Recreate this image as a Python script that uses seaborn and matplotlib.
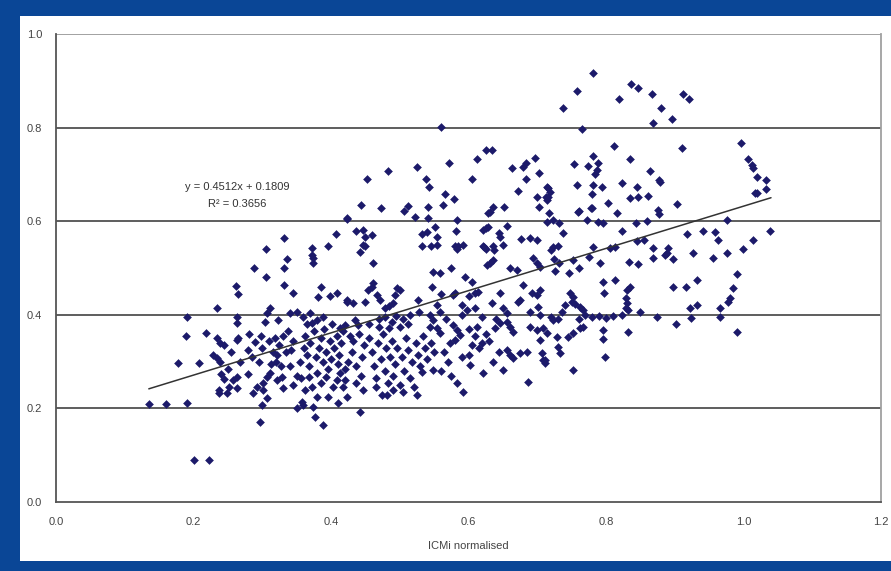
import numpy as np
import pandas as pd
import matplotlib
matplotlib.use("Agg")
import matplotlib.pyplot as plt
import seaborn as sns
from matplotlib.patches import Rectangle

# (ICMi normalised, score) pairs, grouped by x range
pts_left = [
    (0.135, 0.209), (0.160, 0.209), (0.190, 0.212), (0.200, 0.090), (0.223, 0.090),
    (0.190, 0.395), (0.189, 0.355), (0.177, 0.297), (0.208, 0.297), (0.218, 0.361),
    (0.234, 0.415), (0.234, 0.350), (0.239, 0.340), (0.244, 0.335), (0.228, 0.314),
    (0.234, 0.308), (0.239, 0.299), (0.240, 0.274), (0.237, 0.239), (0.237, 0.233),
    (0.249, 0.233), (0.252, 0.246), (0.255, 0.320), (0.250, 0.285), (0.245, 0.262),
]
pts_026_035 = [
    (0.262, 0.462), (0.265, 0.444), (0.263, 0.395), (0.263, 0.382), (0.263, 0.346),
    (0.265, 0.350), (0.268, 0.299), (0.263, 0.267), (0.257, 0.261), (0.263, 0.244),
    (0.279, 0.274), (0.279, 0.325), (0.289, 0.342), (0.287, 0.233), (0.292, 0.246),
    (0.300, 0.207), (0.297, 0.171), (0.301, 0.239), (0.301, 0.254), (0.307, 0.222),
    (0.311, 0.414), (0.307, 0.404), (0.304, 0.385), (0.323, 0.389), (0.307, 0.267),
    (0.311, 0.276), (0.321, 0.261), (0.330, 0.244), (0.329, 0.267), (0.305, 0.541),
    (0.288, 0.500), (0.305, 0.481), (0.332, 0.564), (0.336, 0.519), (0.332, 0.500),
    (0.332, 0.464), (0.340, 0.404), (0.350, 0.406), (0.345, 0.250), (0.350, 0.270),
    (0.350, 0.200), (0.280, 0.360), (0.285, 0.310), (0.295, 0.300), (0.300, 0.330),
    (0.310, 0.345), (0.315, 0.320), (0.320, 0.300), (0.325, 0.335), (0.330, 0.355),
    (0.335, 0.320), (0.340, 0.290), (0.345, 0.345), (0.318, 0.350), (0.312, 0.295),
    (0.298, 0.355), (0.322, 0.315), (0.338, 0.365), (0.327, 0.290), (0.342, 0.325),
]
pts_035_045 = [
    (0.359, 0.395), (0.369, 0.404), (0.380, 0.389), (0.388, 0.395), (0.372, 0.382),
    (0.385, 0.459), (0.381, 0.438), (0.399, 0.440), (0.409, 0.447), (0.423, 0.427),
    (0.345, 0.447), (0.372, 0.543), (0.372, 0.528), (0.374, 0.521), (0.374, 0.511),
    (0.396, 0.547), (0.423, 0.605), (0.407, 0.573), (0.436, 0.579), (0.447, 0.581),
    (0.449, 0.566), (0.460, 0.571), (0.449, 0.547), (0.444, 0.635), (0.423, 0.607),
    (0.452, 0.690), (0.358, 0.214), (0.359, 0.207), (0.374, 0.203), (0.377, 0.182),
    (0.388, 0.165), (0.372, 0.246), (0.403, 0.246), (0.409, 0.261), (0.413, 0.276),
    (0.410, 0.212), (0.355, 0.300), (0.360, 0.330), (0.362, 0.355), (0.365, 0.315),
    (0.368, 0.290), (0.370, 0.340), (0.375, 0.365), (0.378, 0.310), (0.380, 0.275),
    (0.382, 0.330), (0.385, 0.350), (0.388, 0.300), (0.390, 0.370), (0.392, 0.320),
    (0.395, 0.285), (0.398, 0.345), (0.400, 0.305), (0.402, 0.380), (0.405, 0.330),
    (0.408, 0.355), (0.410, 0.295), (0.412, 0.315), (0.415, 0.340), (0.418, 0.365),
    (0.420, 0.285), (0.365, 0.380), (0.357, 0.265), (0.362, 0.240), (0.385, 0.255),
    (0.395, 0.225), (0.380, 0.225), (0.368, 0.268), (0.392, 0.268), (0.413, 0.372),
    (0.420, 0.378), (0.435, 0.389), (0.439, 0.378), (0.423, 0.432), (0.432, 0.425),
    (0.449, 0.427), (0.442, 0.534), (0.447, 0.549), (0.423, 0.224), (0.417, 0.246),
    (0.420, 0.261), (0.442, 0.192), (0.425, 0.300), (0.430, 0.320), (0.432, 0.345),
    (0.437, 0.290), (0.440, 0.360), (0.443, 0.270), (0.445, 0.310), (0.448, 0.335),
    (0.428, 0.355), (0.436, 0.255), (0.446, 0.240),
]
pts_045_055 = [
    (0.461, 0.511), (0.461, 0.468), (0.460, 0.459), (0.454, 0.453), (0.467, 0.442),
    (0.471, 0.432), (0.496, 0.457), (0.500, 0.453), (0.493, 0.442), (0.478, 0.415),
    (0.484, 0.419), (0.490, 0.425), (0.527, 0.432), (0.528, 0.406), (0.554, 0.421),
    (0.559, 0.406), (0.473, 0.628), (0.483, 0.707), (0.512, 0.632), (0.506, 0.622),
    (0.522, 0.609), (0.525, 0.716), (0.538, 0.690), (0.543, 0.673), (0.541, 0.630),
    (0.541, 0.607), (0.532, 0.573), (0.540, 0.577), (0.551, 0.588), (0.554, 0.566),
    (0.532, 0.547), (0.554, 0.549), (0.560, 0.801), (0.546, 0.547), (0.548, 0.491),
    (0.559, 0.489), (0.547, 0.459), (0.474, 0.229), (0.481, 0.229), (0.525, 0.229),
    (0.532, 0.278), (0.548, 0.282), (0.470, 0.390), (0.478, 0.395), (0.488, 0.385),
    (0.495, 0.398), (0.505, 0.392), (0.515, 0.400), (0.512, 0.380), (0.500, 0.375),
    (0.485, 0.372), (0.544, 0.400), (0.548, 0.389), (0.544, 0.374), (0.554, 0.372),
    (0.559, 0.361), (0.455, 0.350), (0.460, 0.320), (0.462, 0.290), (0.465, 0.265),
    (0.468, 0.340), (0.472, 0.305), (0.475, 0.360), (0.478, 0.280), (0.480, 0.330),
    (0.483, 0.255), (0.486, 0.310), (0.488, 0.345), (0.490, 0.270), (0.493, 0.295),
    (0.496, 0.330), (0.500, 0.250), (0.503, 0.310), (0.506, 0.280), (0.509, 0.350),
    (0.512, 0.325), (0.515, 0.265), (0.518, 0.300), (0.520, 0.245), (0.523, 0.340),
    (0.526, 0.315), (0.530, 0.290), (0.534, 0.355), (0.537, 0.330), (0.540, 0.305),
    (0.545, 0.340), (0.550, 0.320), (0.505, 0.235), (0.490, 0.240), (0.465, 0.245),
    (0.470, 0.375), (0.455, 0.380),
]
pts_055_065 = [
    (0.566, 0.658), (0.579, 0.647), (0.563, 0.635), (0.572, 0.724), (0.583, 0.603),
    (0.582, 0.579), (0.592, 0.549), (0.605, 0.690), (0.612, 0.733), (0.625, 0.752),
    (0.634, 0.752), (0.625, 0.585), (0.621, 0.581), (0.628, 0.588), (0.636, 0.630),
    (0.631, 0.620), (0.628, 0.618), (0.644, 0.575), (0.646, 0.566), (0.621, 0.547),
    (0.650, 0.550), (0.580, 0.547), (0.583, 0.540), (0.585, 0.547), (0.623, 0.545),
    (0.626, 0.540), (0.636, 0.547), (0.637, 0.538), (0.627, 0.506), (0.631, 0.511),
    (0.636, 0.517), (0.577, 0.442), (0.580, 0.447), (0.614, 0.449), (0.609, 0.447),
    (0.646, 0.447), (0.634, 0.425), (0.598, 0.410), (0.609, 0.415), (0.650, 0.415),
    (0.577, 0.378), (0.583, 0.368), (0.588, 0.357), (0.580, 0.346), (0.573, 0.340),
    (0.600, 0.370), (0.610, 0.355), (0.620, 0.340), (0.605, 0.335), (0.615, 0.330),
    (0.625, 0.360), (0.630, 0.345), (0.612, 0.375), (0.639, 0.372), (0.646, 0.382),
    (0.621, 0.276), (0.602, 0.293), (0.583, 0.254), (0.592, 0.235), (0.590, 0.310),
    (0.570, 0.300), (0.565, 0.320), (0.600, 0.315), (0.560, 0.280), (0.575, 0.270),
    (0.635, 0.300), (0.645, 0.320), (0.568, 0.390), (0.590, 0.400), (0.620, 0.395),
    (0.640, 0.390), (0.595, 0.480), (0.605, 0.470), (0.575, 0.500), (0.560, 0.445),
    (0.590, 0.420), (0.600, 0.440),
]
pts_065_075 = [
    (0.652, 0.630), (0.656, 0.590), (0.676, 0.562), (0.663, 0.714), (0.679, 0.716),
    (0.684, 0.724), (0.697, 0.735), (0.703, 0.703), (0.684, 0.690), (0.672, 0.665),
    (0.700, 0.652), (0.713, 0.652), (0.715, 0.670), (0.703, 0.630), (0.714, 0.673),
    (0.719, 0.662), (0.716, 0.652), (0.714, 0.645), (0.717, 0.618), (0.690, 0.564),
    (0.700, 0.560), (0.660, 0.500), (0.671, 0.496), (0.694, 0.521), (0.700, 0.511),
    (0.704, 0.502), (0.720, 0.539), (0.725, 0.520), (0.732, 0.510), (0.679, 0.464),
    (0.692, 0.447), (0.704, 0.453), (0.700, 0.442), (0.675, 0.432), (0.672, 0.427),
    (0.689, 0.406), (0.701, 0.417), (0.704, 0.400), (0.656, 0.404), (0.723, 0.389),
    (0.656, 0.385), (0.660, 0.374), (0.665, 0.363), (0.656, 0.325), (0.660, 0.314),
    (0.665, 0.308), (0.675, 0.318), (0.685, 0.321), (0.689, 0.374), (0.700, 0.368),
    (0.708, 0.372), (0.714, 0.361), (0.704, 0.346), (0.707, 0.318), (0.711, 0.303),
    (0.650, 0.282), (0.687, 0.256), (0.709, 0.303), (0.711, 0.297), (0.729, 0.353),
    (0.730, 0.331), (0.733, 0.318), (0.745, 0.353), (0.752, 0.361), (0.736, 0.406),
    (0.730, 0.390), (0.720, 0.395), (0.740, 0.420), (0.752, 0.282), (0.737, 0.842),
    (0.714, 0.598), (0.723, 0.545), (0.730, 0.548), (0.726, 0.494), (0.746, 0.489),
    (0.737, 0.575), (0.723, 0.603), (0.731, 0.596),
]
pts_075_085 = [
    (0.758, 0.677), (0.781, 0.677), (0.794, 0.673), (0.780, 0.658), (0.823, 0.682),
    (0.845, 0.673), (0.803, 0.639), (0.835, 0.650), (0.847, 0.652), (0.861, 0.654),
    (0.780, 0.628), (0.761, 0.622), (0.816, 0.618), (0.759, 0.620), (0.778, 0.628),
    (0.781, 0.917), (0.758, 0.878), (0.819, 0.861), (0.836, 0.893), (0.847, 0.885),
    (0.765, 0.797), (0.812, 0.761), (0.835, 0.733), (0.781, 0.739), (0.788, 0.724),
    (0.787, 0.709), (0.784, 0.701), (0.753, 0.722), (0.774, 0.718), (0.772, 0.603),
    (0.788, 0.598), (0.796, 0.596), (0.823, 0.579), (0.844, 0.596), (0.845, 0.558),
    (0.781, 0.545), (0.806, 0.543), (0.813, 0.545), (0.775, 0.524), (0.752, 0.517),
    (0.761, 0.500), (0.791, 0.511), (0.833, 0.513), (0.847, 0.509), (0.796, 0.470),
    (0.813, 0.474), (0.797, 0.447), (0.835, 0.459), (0.831, 0.453), (0.829, 0.436),
    (0.831, 0.425), (0.829, 0.415), (0.748, 0.447), (0.752, 0.438), (0.750, 0.427),
    (0.755, 0.423), (0.762, 0.417), (0.767, 0.410), (0.849, 0.406), (0.823, 0.400),
    (0.832, 0.410), (0.832, 0.363), (0.796, 0.368), (0.796, 0.348), (0.799, 0.310),
    (0.767, 0.374), (0.762, 0.372), (0.780, 0.395), (0.790, 0.398), (0.800, 0.393),
    (0.810, 0.398), (0.770, 0.400), (0.760, 0.392),
]
pts_right = [
    (0.867, 0.872), (0.912, 0.872), (0.921, 0.861), (0.880, 0.842), (0.896, 0.818),
    (0.868, 0.810), (0.911, 0.756), (0.864, 0.707), (0.877, 0.688), (0.879, 0.684),
    (0.903, 0.637), (0.876, 0.624), (0.877, 0.615), (0.996, 0.767), (1.007, 0.733),
    (1.012, 0.720), (1.014, 0.714), (1.020, 0.694), (1.033, 0.688), (1.020, 0.660),
    (1.033, 0.669), (1.017, 0.660), (0.976, 0.603), (0.918, 0.573), (0.941, 0.579),
    (0.958, 0.577), (0.963, 0.560), (1.014, 0.560), (0.999, 0.541), (0.976, 0.532),
    (0.956, 0.521), (0.927, 0.532), (0.897, 0.519), (0.890, 0.543), (0.889, 0.532),
    (0.886, 0.528), (0.868, 0.543), (0.868, 0.521), (1.039, 0.579), (0.991, 0.487),
    (0.932, 0.474), (0.897, 0.459), (0.916, 0.459), (0.985, 0.457), (0.980, 0.436),
    (0.977, 0.427), (0.932, 0.421), (0.922, 0.415), (0.966, 0.415), (0.966, 0.395),
    (0.924, 0.393), (0.874, 0.395), (0.902, 0.380), (0.991, 0.363), (0.855, 0.560),
    (0.860, 0.600),
]

# linear trend as printed on the chart
slope = 0.4512
intercept = 0.1809
r_squared = 0.3656
trend_x = [0.135, 1.04]

x_ticks = [0.0, 0.2, 0.4, 0.6, 0.8, 1.0, 1.2]
y_ticks = [0.0, 0.2, 0.4, 0.6, 0.8, 1.0]

all_pts = (pts_left + pts_026_035 + pts_035_045 + pts_045_055 + pts_055_065
           + pts_065_075 + pts_075_085 + pts_right)
df = pd.DataFrame(all_pts, columns=["icmi", "score"])
trend = pd.DataFrame({"x": trend_x})
trend["y"] = slope * trend["x"] + intercept

sns.set_style("white")
plt.rcParams["font.family"] = ["Liberation Sans", "DejaVu Sans"]

fig = plt.figure(figsize=(8.91, 5.71), dpi=100)
fig.patch.set_facecolor("#0a4696")

# white panel inside the blue frame (an empty axes underneath the plot)
bg = fig.add_axes([20 / 891, 10 / 571, 1 - 20 / 891, 545 / 571], zorder=-5)
bg.set_facecolor("white")
bg.set_xticks([])
bg.set_yticks([])
for sp in bg.spines.values():
    sp.set_visible(False)

ax = fig.add_axes([56 / 891, 69 / 571, 825 / 891, 468 / 571])
ax.set_facecolor("white")

for yv in y_ticks[1:-1]:
    ax.axhline(yv, color="#505050", lw=1.3, zorder=1)
ax.axhline(1.0, color="#9a9a9a", lw=1.3, zorder=1)

sns.scatterplot(data=df, x="icmi", y="score", marker="D", s=16,
                color="#1c1a6a", edgecolor="#1c1a6a", linewidth=0.4,
                ax=ax, zorder=3)
sns.lineplot(data=trend, x="x", y="y", color="#333333", lw=1.1, ax=ax, zorder=4)

ax.set_xlim(0, 1.2)
ax.set_ylim(0, 1.0)
ax.set_xticks(x_ticks)
ax.set_yticks(y_ticks)
ax.set_xticklabels([f"{v:.1f}" for v in x_ticks])
ax.set_yticklabels([f"{v:.1f}" for v in y_ticks])
ax.tick_params(axis="both", labelsize=8, colors="#555555", length=4,
               width=1, labelcolor="#444444")
ax.tick_params(axis="x", direction="inout", length=6, pad=8)
ax.tick_params(axis="y", direction="out", pad=6)

for side in ["left", "bottom"]:
    ax.spines[side].set_color("#555555")
    ax.spines[side].set_linewidth(1.3)
ax.spines["top"].set_visible(False)
ax.spines["right"].set_color("#a0a0a0")
ax.spines["right"].set_linewidth(1.3)

ax.set_xlabel("ICMi normalised", fontsize=8, color="#444444", labelpad=10)
ax.set_ylabel("")

ax.text(0.263, 0.673, f"y = {slope}x + {intercept}", ha="center", va="center",
        fontsize=8, color="#333333")
ax.text(0.263, 0.637, f"R² = {r_squared}", ha="center", va="center",
        fontsize=8, color="#333333")

plt.savefig("out.png", dpi=100, facecolor=fig.get_facecolor())
